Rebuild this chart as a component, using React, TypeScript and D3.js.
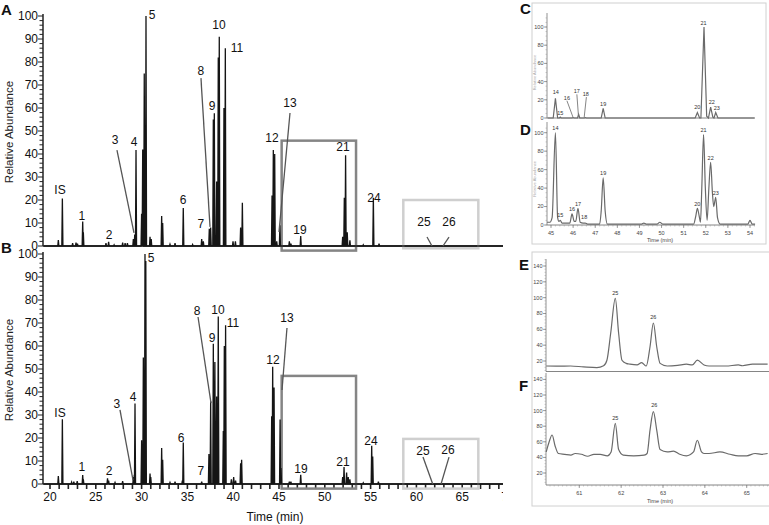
import React from "react";
import * as d3 from "d3";

// ---------- Main chromatograms (time in min, relative abundance %) ----------
const peakTimesA = [20.91, 21.35, 22.47, 22.84, 23.0, 23.57, 23.64, 26.11, 26.4, 27.0, 27.93, 28.2, 28.45, 29.1, 29.25, 29.39, 30.0, 30.12, 30.29, 30.48, 30.92, 31.05, 32.19, 32.3, 33.1, 33.65, 34.55, 35.57, 36.56, 36.74, 37.39, 37.54, 37.83, 37.94, 38.19, 38.37, 38.48, 38.99, 39.14, 39.98, 40.24, 40.81, 41.0, 44.24, 44.38, 44.53, 44.75, 45.1, 46.13, 46.3, 47.37, 51.95, 52.13, 52.27, 52.45, 52.74, 54.2, 55.3, 55.92];
const peakValsA = [2.6, 20.7, 1.2, 1.5, 1.0, 10.6, 6, 1.2, 1.8, 0.5, 1.5, 1.3, 1.2, 3, 5, 41.7, 14, 42, 75, 100, 4, 3, 13, 10, 0.8, 1.2, 16.5, 0.6, 3, 2, 7.5, 8, 55, 57.7, 28, 82, 91, 60, 86, 2, 2, 8, 18.8, 22, 41.7, 40, 2, 9, 2, 1, 4.3, 4, 21, 39.5, 6, 2.5, 0.5, 21, 1];

const peakTimesB = [20.91, 21.35, 22.36, 22.6, 22.97, 23.57, 23.64, 26.28, 26.4, 27.1, 27.93, 29.1, 29.2, 29.28, 30.0, 30.19, 30.37, 30.46, 30.92, 31.0, 32.19, 32.3, 33.1, 33.65, 34.45, 34.55, 36.56, 37.35, 37.54, 37.83, 38.0, 38.19, 38.37, 38.92, 39.03, 39.17, 39.8, 40.05, 40.26, 40.81, 40.92, 44.2, 44.31, 44.46, 45.12, 45.22, 46.13, 46.3, 47.37, 51.95, 52.1, 52.38, 52.56, 52.74, 54.2, 55.12, 55.23, 55.85];
const peakValsB = [3.5, 28.1, 0.8, 1, 1.2, 3.9, 2, 2.5, 1.5, 0.7, 1.2, 3, 4, 35, 19, 55, 100, 97, 4.5, 3, 15.6, 10.5, 0.7, 1, 1.5, 18, 1, 13, 36, 61, 53, 38, 72.8, 23, 60, 69, 2, 3, 1.5, 9, 10.5, 29.5, 51, 42, 28, 7, 1, 1, 4, 3, 7.4, 5, 3, 2, 0.5, 16.6, 12, 1];

// labels: text, time, abundance (label centre)
const labelTextA = ["IS", "1", "2", "3", "4", "5", "6", "7", "8", "9", "10", "11", "12", "13", "19", "21", "24", "25", "26"];
const labelTimeA = [21.09, 23.49, 26.44, 27.1, 29.17, 31.14, 34.52, 36.48, 36.48, 37.69, 38.45, 40.41, 44.24, 46.2, 47.29, 51.99, 55.37, 60.83, 63.56];
const labelValA = [24.3, 13.0, 4.8, 46.1, 45.2, 100.4, 20, 9.6, 76.1, 60.9, 96.1, 86.1, 47, 62.2, 7, 43, 20.9, 10.4, 10.4];

const labelTextB = ["IS", "1", "2", "3", "4", "5", "6", "7", "8", "9", "10", "11", "12", "13", "19", "21", "24", "25", "26"];
const labelTimeB = [21.09, 23.49, 26.44, 27.31, 29.06, 31.03, 34.3, 36.48, 36.05, 37.69, 38.34, 39.98, 44.34, 45.87, 47.4, 51.99, 55.04, 60.72, 63.45];
const labelValB = [30.9, 7.4, 5.7, 34.8, 37.8, 98.3, 20, 5.7, 75.2, 63.5, 75.7, 70, 53.9, 72.2, 6.5, 9.6, 18.7, 14.3, 14.8];

// leader lines: [t1, v1, t2, v2]
const leadersA = [[27.31, 41.7, 29.17, 5.7], [36.48, 73, 37.47, 8.3], [46.2, 57.8, 45.0, 6.1], [61.16, 3.9, 61.7, 0], [63.56, 3.9, 62.9, 0]];
const leadersB = [[27.64, 32.2, 29.06, 1.7], [36.16, 72.6, 37.58, 35.2], [45.87, 67.8, 45.33, 40.9], [60.72, 11.7, 61.78, 0], [63.56, 11.7, 62.69, 0]];

// zoom boxes: [t1, t2, vTop, vBottom]
const boxesA = [[45.29, 53.41, 45.8, -2, "dark"], [58.57, 66.76, 20, -1, "light"]];
const boxesB = [[45.29, 53.41, 47, -2, "dark"], [58.57, 66.76, 19.6, -2, "light"]];

const mainXTicks = [20, 25, 30, 35, 40, 45, 50, 55, 60, 65, 70];
const mainYTicks = [0, 10, 20, 30, 40, 50, 60, 70, 80, 90, 100];

// ---------- Panel C / D (45–54 min) ----------
const traceC: [number, number][] = [[44.85, 0], [45.1, 0], [45.2, 21.6], [45.3, 0], [45.38, 0], [45.42, 1], [45.46, 0], [45.95, 0], [46.0, 0.5], [46.05, 0], [46.2, 0], [46.25, 4], [46.3, 0], [46.5, 0], [46.55, 0.5], [46.6, 0], [47.27, 0], [47.36, 10.6], [47.45, 0], [51.52, 0], [51.62, 6], [51.72, 0], [51.78, 0], [51.92, 100], [52.04, 2], [52.12, 0], [52.22, 12], [52.32, 1], [52.37, 0], [52.45, 6], [52.55, 0], [54.2, 0]];
const labelTextC = ["14", "15", "16", "17", "18", "19", "20", "21", "22", "23"];
const labelTimeC = [45.22, 45.42, 45.72, 46.17, 46.57, 47.36, 51.62, 51.9, 52.27, 52.5];
const labelValC = [28, 5.5, 22, 30, 26, 15, 12, 104, 18, 11];
const leadersC = [[45.72, 19, 46.0, 0.5], [46.17, 26, 46.24, 3], [46.6, 23, 46.5, 0.5]];

const traceD: [number, number][] = [[44.82, 3], [44.95, 3], [45.05, 8], [45.2, 100], [45.3, 8], [45.36, 4], [45.42, 5], [45.5, 2], [45.85, 2], [45.95, 12], [46.05, 4], [46.12, 4], [46.22, 18], [46.32, 3], [46.45, 2], [46.55, 2], [46.65, 1], [47.2, 1], [47.27, 15], [47.36, 51], [47.45, 15], [47.55, 1], [49.1, 1], [49.2, 2], [49.3, 1], [49.8, 1], [49.92, 3], [50.05, 1], [51.45, 1], [51.55, 10], [51.62, 18], [51.7, 10], [51.76, 3], [51.82, 40], [51.9, 98], [51.98, 40], [52.06, 5], [52.14, 40], [52.22, 68], [52.3, 35], [52.36, 20], [52.45, 30], [52.53, 8], [52.65, 1], [53.9, 1], [54.0, 5], [54.1, 1], [54.23, 1]];
const labelTextD = ["14", "15", "16", "17", "18", "19", "20", "21", "22", "23"];
const labelTimeD = [45.2, 45.42, 45.95, 46.22, 46.5, 47.36, 51.62, 51.9, 52.22, 52.45];
const labelValD = [105, 11, 17, 23, 9, 56, 23, 103, 73, 35];
const ticksCD = [45, 46, 47, 48, 49, 50, 51, 52, 53, 54];
const yTicksCD = [0, 20, 40, 60, 80, 100];

// ---------- Panel E / F (60.2–65.5 min) ----------
const traceE: [number, number][] = [[60.21, 13.7], [60.5, 13.5], [60.79, 13.7], [61.1, 12.5], [61.42, 11.6], [61.58, 14], [61.66, 21], [61.75, 55], [61.86, 99], [61.94, 55], [62.02, 21], [62.12, 17], [62.21, 16], [62.38, 15], [62.49, 18], [62.6, 13.7], [62.69, 38], [62.77, 68], [62.85, 38], [62.93, 17], [63.1, 13.7], [63.35, 14.5], [63.56, 16], [63.7, 15], [63.82, 21], [63.98, 15], [64.1, 13.7], [64.5, 13.7], [64.8, 15], [64.9, 14], [65.14, 16], [65.5, 16]];
const traceF: [number, number][] = [[60.21, 47], [60.28, 60], [60.35, 68.7], [60.42, 55], [60.5, 45], [60.65, 44], [60.8, 43], [60.9, 45], [61.05, 44], [61.2, 41.5], [61.35, 44], [61.5, 44], [61.67, 42], [61.76, 47], [61.86, 83.7], [61.94, 50], [62.05, 43], [62.3, 42], [62.55, 43], [62.62, 45], [62.69, 75], [62.77, 98.6], [62.85, 75], [62.93, 50], [63.1, 47], [63.25, 48], [63.4, 44], [63.56, 42], [63.73, 47], [63.82, 62], [63.92, 47], [63.98, 45], [64.1, 45], [64.36, 47], [64.6, 44], [64.8, 42], [65.0, 42], [65.2, 45], [65.35, 44], [65.5, 45]];
const labelTextEF = ["25", "26"];
const labelTimeE = [61.86, 62.77];
const labelValE = [106, 75];
const labelTimeF = [61.86, 62.79];
const labelValF = [91, 107];
const ticksEF = [61, 62, 63, 64, 65];
const yTicksEF = [20, 40, 60, 80, 100, 120, 140];

const FONT = "'Liberation Sans', Arial, sans-serif";

function spikePath(times: number[], vals: number[], x: any, y: any, t0: number, t1: number) {
  const idx = d3.range(times.length).sort((a, b) => times[a] - times[b]);
  const pts: [number, number][] = [[t0, 0]];
  const w = 0.06;
  idx.forEach((i) => {
    pts.push([times[i] - w, 0], [times[i], vals[i]], [times[i] + w, 0]);
  });
  pts.push([t1, 0]);
  return d3.line<[number, number]>().x((d) => x(d[0])).y((d) => y(d[1]))(pts) || "";
}

function MainPanel({ letter, y, times, vals, lText, lTime, lVal, leaders, boxes, showX }: any) {
  const x = d3.scaleLinear().domain([20, 70]).range([50, 508]);
  const axisX = 43;
  const minor = d3.range(0, 101, 2);
  const y0 = y(0);
  return (
    <g>
      <text x={1} y={y(100) - 1} fontFamily={FONT} fontWeight="bold" fontSize={15} fill="#111">{letter}</text>
      <text transform={`translate(13,${(y(0) + y(100)) / 2 + 1}) rotate(-90)`} textAnchor="middle" fontFamily={FONT} fontSize={11.5} fill="#222">Relative Abundance</text>
      {minor.map((v) => (
        <line key={"m" + v} x1={axisX - (v % 10 === 0 ? 5 : 3.5)} x2={axisX} y1={y(v)} y2={y(v)} stroke="#222" strokeWidth={1} />
      ))}
      {mainYTicks.map((v) => (
        <text key={"t" + v} x={38} y={y(v)} dy="0.35em" textAnchor="end" fontFamily={FONT} fontSize={12} fill="#111">{v}</text>
      ))}
      <line x1={axisX} x2={axisX} y1={y(100) - 2} y2={y0} stroke="#222" strokeWidth={1.5} />
      <g clipPath="url(#mainclip)">
        <line x1={axisX} x2={510} y1={y0} y2={y0} stroke="#222" strokeWidth={1.5} />
        {showX && d3.range(20, 71, 1).map((t) => (
          <line key={"xt" + t} x1={x(t)} x2={x(t)} y1={y0} y2={y0 + 5} stroke="#222" strokeWidth={1.6} />
        ))}
        {showX && mainXTicks.map((t) => (
          <text key={"xl" + t} x={x(t)} y={y0 + 17} textAnchor="middle" fontFamily={FONT} fontSize={12} fill="#111">{t}</text>
        ))}
        {boxes.map((b: any, i: number) => (
          <rect key={"b" + i} x={x(b[0])} y={y(b[2])} width={x(b[1]) - x(b[0])} height={y(b[3]) - y(b[2])} fill="none" stroke={b[4] === "dark" ? "#858585" : "#cfcfcf"} strokeWidth={2.5} />
        ))}
        <path d={spikePath(times, vals, x, y, 19.3, 70)} fill="none" stroke="#151515" strokeWidth={1.3} strokeLinejoin="miter" />
        {leaders.map((l: number[], i: number) => (
          <line key={"ld" + i} x1={x(l[0])} y1={y(l[1])} x2={x(l[2])} y2={y(l[3])} stroke="#555" strokeWidth={1.3} />
        ))}
        {lText.map((s: string, i: number) => (
          <text key={"lb" + i} x={x(lTime[i])} y={y(lVal[i])} dy="0.35em" textAnchor="middle" fontFamily={FONT} fontSize={12} fill="#111">{s}</text>
        ))}
      </g>
    </g>
  );
}

function SmallY({ y, ticks, axisX, top, bottom, minorStep, lo, hi }: any) {
  return (
    <g>
      <line x1={axisX} x2={axisX} y1={top} y2={bottom} stroke="#777" strokeWidth={0.8} />
      {d3.range(lo, hi + 0.001, minorStep).map((v: number) => (
        <line key={"mn" + v} x1={axisX - 1.5} x2={axisX} y1={y(v)} y2={y(v)} stroke="#999" strokeWidth={0.5} />
      ))}
      {ticks.map((v: number) => (
        <g key={"t" + v}>
          <line x1={axisX - 3} x2={axisX} y1={y(v)} y2={y(v)} stroke="#777" strokeWidth={0.7} />
          <text x={axisX - 3.5} y={y(v)} dy="0.35em" textAnchor="end" fontFamily={FONT} fontSize={5.5} fill="#444">{v}</text>
        </g>
      ))}
    </g>
  );
}

export default function App() {
  const yA = d3.scaleLinear().domain([0, 100]).range([246, 16]);
  const yB = d3.scaleLinear().domain([0, 100]).range([484, 254]);

  const xCD = d3.scaleLinear().domain([45, 54]).range([551, 750]);
  const yC = d3.scaleLinear().domain([0, 100]).range([118, 27]);
  const yD = d3.scaleLinear().domain([0, 100]).range([225, 132.7]);
  const xEF = d3.scaleLinear().domain([61, 65]).range([579.3, 746.7]);
  const yE = d3.scaleLinear().domain([20, 140]).range([361, 266]);
  const yF = d3.scaleLinear().domain([20, 140]).range([473, 379.4]);

  const lineCD = (ys: any) => d3.line<[number, number]>().x((d) => xCD(d[0])).y((d) => ys(d[1]));
  const lineSmooth = (xs: any, ys: any) => d3.line<[number, number]>().x((d) => xs(d[0])).y((d) => ys(d[1])).curve(d3.curveMonotoneX);

  return (
    <svg width={769} height={525} style={{ position: "absolute", left: 0, top: 0, background: "#fff" }}>
      <defs>
        <clipPath id="mainclip">
          <rect x={0} y={0} width={503} height={525} />
        </clipPath>
      </defs>
      <rect x={0} y={0} width={769} height={525} fill="#fff" />

      <MainPanel letter="A" y={yA} times={peakTimesA} vals={peakValsA} lText={labelTextA} lTime={labelTimeA} lVal={labelValA} leaders={leadersA} boxes={boxesA} showX={false} />
      <MainPanel letter="B" y={yB} times={peakTimesB} vals={peakValsB} lText={labelTextB} lTime={labelTimeB} lVal={labelValB} leaders={leadersB} boxes={boxesB} showX={true} />
      <text x={275} y={521} textAnchor="middle" fontFamily={FONT} fontSize={12} fill="#111">Time (min)</text>

      {/* C / D */}
      <rect x={532} y={3} width={234} height={241} fill="none" stroke="#d0d0d0" strokeWidth={1} />
      <text x={520} y={14} fontFamily={FONT} fontWeight="bold" fontSize={15} fill="#111">C</text>
      <text x={520} y={135} fontFamily={FONT} fontWeight="bold" fontSize={15} fill="#111">D</text>
      <text transform={`translate(536,${yC(50)}) rotate(-90)`} textAnchor="middle" fontFamily={FONT} fontSize={4} fill="#aaa">Relative Abundance</text>
      <text transform={`translate(536,${yD(50)}) rotate(-90)`} textAnchor="middle" fontFamily={FONT} fontSize={4} fill="#aaa">Relative Abundance</text>
      <SmallY y={yC} ticks={yTicksCD} axisX={547} top={13} bottom={118} minorStep={5} lo={0} hi={110} />
      <SmallY y={yD} ticks={yTicksCD} axisX={547} top={122} bottom={225} minorStep={5} lo={0} hi={105} />
      <line x1={547} x2={755} y1={118} y2={118} stroke="#777" strokeWidth={0.9} />
      <line x1={547} x2={755} y1={225} y2={225} stroke="#777" strokeWidth={0.9} />
      {d3.range(45, 54.21, 0.2).map((t: number) => (
        <line key={"dm" + t} x1={xCD(t)} x2={xCD(t)} y1={225} y2={226.5} stroke="#999" strokeWidth={0.5} />
      ))}
      {ticksCD.map((t) => (
        <g key={"dt" + t}>
          <line x1={xCD(t)} x2={xCD(t)} y1={225} y2={228} stroke="#777" strokeWidth={0.7} />
          <text x={xCD(t)} y={234.5} textAnchor="middle" fontFamily={FONT} fontSize={5.5} fill="#444">{t}</text>
        </g>
      ))}
      <text x={660} y={241.5} textAnchor="middle" fontFamily={FONT} fontSize={5.5} fill="#444">Time (min)</text>
      <path d={lineCD(yC)(traceC) || ""} fill="none" stroke="#6a6a6a" strokeWidth={1.2} />
      <path d={lineSmooth(xCD, yD)(traceD) || ""} fill="none" stroke="#6a6a6a" strokeWidth={1.2} />
      {leadersC.map((l, i) => (
        <line key={"lc" + i} x1={xCD(l[0])} y1={yC(l[1])} x2={xCD(l[2])} y2={yC(l[3])} stroke="#777" strokeWidth={0.9} />
      ))}
      {labelTextC.map((s, i) => (
        <text key={"c" + i} x={xCD(labelTimeC[i])} y={yC(labelValC[i])} dy="0.35em" textAnchor="middle" fontFamily={FONT} fontSize={5.5} fill="#333">{s}</text>
      ))}
      {labelTextD.map((s, i) => (
        <text key={"d" + i} x={xCD(labelTimeD[i])} y={yD(labelValD[i])} dy="0.35em" textAnchor="middle" fontFamily={FONT} fontSize={5.5} fill="#333">{s}</text>
      ))}

      {/* E / F */}
      <rect x={532} y={252} width={240} height={254} fill="none" stroke="#d0d0d0" strokeWidth={1} />
      <text x={519} y={270} fontFamily={FONT} fontWeight="bold" fontSize={15} fill="#111">E</text>
      <text x={519} y={391} fontFamily={FONT} fontWeight="bold" fontSize={15} fill="#111">F</text>
      <SmallY y={yE} ticks={yTicksEF} axisX={546} top={259} bottom={371.5} minorStep={4} lo={8} hi={148} />
      <SmallY y={yF} ticks={yTicksEF} axisX={546} top={373} bottom={485} minorStep={4} lo={8} hi={144} />
      <line x1={546} x2={769} y1={371.5} y2={371.5} stroke="#777" strokeWidth={0.9} />
      <line x1={546} x2={769} y1={485} y2={485} stroke="#777" strokeWidth={0.9} />
      {d3.range(60.3, 65.51, 0.1).map((t: number) => (
        <line key={"fm" + t} x1={xEF(t)} x2={xEF(t)} y1={485} y2={486.5} stroke="#999" strokeWidth={0.5} />
      ))}
      {ticksEF.map((t) => (
        <g key={"ft" + t}>
          <line x1={xEF(t)} x2={xEF(t)} y1={485} y2={488} stroke="#777" strokeWidth={0.7} />
          <text x={xEF(t)} y={494.5} textAnchor="middle" fontFamily={FONT} fontSize={5.5} fill="#444">{t}</text>
        </g>
      ))}
      <text x={660} y={502.5} textAnchor="middle" fontFamily={FONT} fontSize={5.5} fill="#444">Time (min)</text>
      <path d={lineSmooth(xEF, yE)(traceE) || ""} fill="none" stroke="#6a6a6a" strokeWidth={1.2} />
      <path d={lineSmooth(xEF, yF)(traceF) || ""} fill="none" stroke="#6a6a6a" strokeWidth={1.2} />
      {labelTextEF.map((s, i) => (
        <text key={"e" + i} x={xEF(labelTimeE[i])} y={yE(labelValE[i])} dy="0.35em" textAnchor="middle" fontFamily={FONT} fontSize={5.5} fill="#333">{s}</text>
      ))}
      {labelTextEF.map((s, i) => (
        <text key={"f" + i} x={xEF(labelTimeF[i])} y={yF(labelValF[i])} dy="0.35em" textAnchor="middle" fontFamily={FONT} fontSize={5.5} fill="#333">{s}</text>
      ))}
    </svg>
  );
}
